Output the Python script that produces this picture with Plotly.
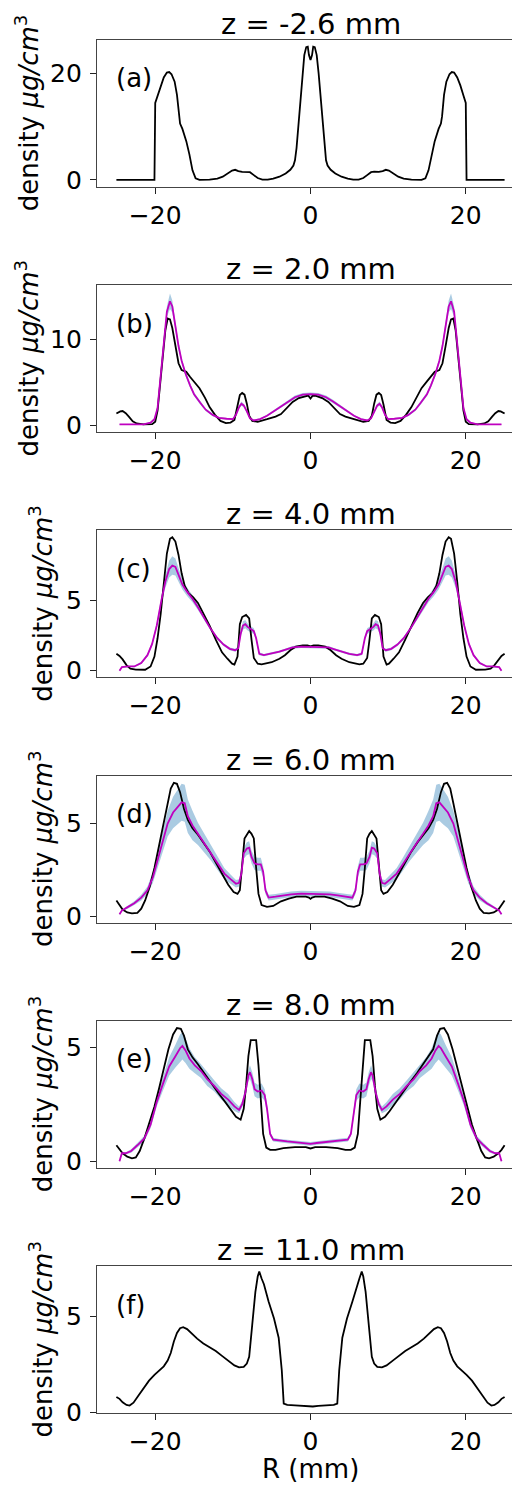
import plotly.graph_objects as go

# ---------------- data (R in mm, density in ug/cm^3) ----------------
TITLES = ["z = -2.6 mm", "z = 2.0 mm", "z = 4.0 mm", "z = 6.0 mm", "z = 8.0 mm", "z = 11.0 mm"]
LETTERS = ["(a)", "(b)", "(c)", "(d)", "(e)", "(f)"]
X_TICKS = [-20, 0, 20]
Y_TICKS = [[0, 20], [0, 10], [0, 5], [0, 5], [0, 5], [0, 5]]

# black: measured profile (R, density)
A_BLACK = [(-25, 0), (-20.1, 0), (-20.0, 14.5), (-19.7, 15.9), (-19.3, 17.8), (-18.9, 19.3), (-18.5, 20.2), (-18.2, 20.3),
           (-17.9, 19.9), (-17.5, 18.5), (-17.2, 16.0), (-16.95, 12.0), (-16.8, 10.6), (-16.5, 9.6), (-16.0, 7.3),
           (-15.6, 4.8), (-15.2, 1.8), (-14.8, 0.3), (-14.3, 0.0), (-13.0, 0.05), (-12.0, 0.25), (-11.3, 0.6),
           (-10.7, 1.2), (-10.1, 1.75), (-9.7, 1.9), (-9.3, 1.65), (-8.8, 1.5), (-8.2, 1.55), (-7.8, 1.45), (-7.3, 0.9),
           (-6.8, 0.35), (-6.2, 0.05), (-5.5, 0.05), (-4.8, 0.25), (-4.0, 0.6), (-3.2, 1.2), (-2.6, 1.9), (-2.2, 2.7),
           (-2.0, 3.7), (-1.8, 6.0), (-1.55, 10.5), (-1.3, 15.5), (-1.05, 20.0), (-0.8, 23.5), (-0.55, 25.0),
           (-0.35, 25.1), (-0.2, 23.5), (0, 22.6),
           (0.2, 23.5), (0.35, 25.1), (0.55, 25.0), (0.8, 23.5), (1.05, 20.0), (1.3, 15.5), (1.55, 10.5), (1.8, 6.0),
           (2.0, 3.7), (2.2, 2.7), (2.6, 1.9), (3.2, 1.2), (4.0, 0.6), (4.8, 0.25), (5.5, 0.05), (6.2, 0.05),
           (6.8, 0.35), (7.3, 0.9), (7.8, 1.45), (8.2, 1.55), (8.8, 1.5), (9.3, 1.65), (9.7, 1.9), (10.1, 1.75),
           (10.7, 1.2), (11.3, 0.6), (12.0, 0.25), (13.0, 0.05), (14.3, 0.0), (14.8, 0.3), (15.2, 1.8), (15.6, 4.8),
           (16.0, 7.3), (16.5, 9.6), (16.8, 10.6), (16.95, 12.0), (17.2, 16.0), (17.5, 18.5), (17.9, 19.9),
           (18.2, 20.3), (18.5, 20.2), (18.9, 19.3), (19.3, 17.8), (19.7, 15.9), (20.0, 14.5), (20.1, 0), (25, 0)]

B_BLACK = [(-25, 1.35), (-24.5, 1.6), (-24.2, 1.65), (-23.8, 1.4), (-23.4, 1.0), (-22.9, 0.45), (-22.4, 0.2),
           (-21.5, 0.1), (-20.4, 0.12), (-20.0, 0.4), (-19.7, 1.7), (-19.4, 4.5), (-19.0, 8.5), (-18.7, 11.0),
           (-18.4, 12.4), (-18.1, 12.3), (-17.8, 11.3), (-17.4, 9.2), (-17.0, 7.2), (-16.6, 6.4), (-16.0, 6.2),
           (-15.5, 5.6), (-15.0, 5.1), (-14.3, 4.3), (-13.6, 3.2), (-13.0, 2.1), (-12.3, 1.2), (-11.6, 0.5),
           (-10.9, 0.25), (-10.3, 0.3), (-9.8, 0.6), (-9.4, 2.4), (-9.1, 3.5), (-8.8, 3.75), (-8.5, 3.55),
           (-8.2, 2.5), (-7.9, 1.1), (-7.5, 0.5), (-6.8, 0.4), (-5.6, 0.7), (-4.5, 1.0), (-3.8, 1.3), (-3.0, 2.1),
           (-2.3, 2.7), (-1.5, 3.15), (-0.7, 3.4), (-0.3, 3.45), (0, 3.1),
           (0.3, 3.45), (0.7, 3.4), (1.5, 3.15), (2.3, 2.7), (3.0, 2.1), (3.8, 1.3), (4.5, 1.0), (5.6, 0.7),
           (6.8, 0.4), (7.5, 0.5), (7.9, 1.1), (8.2, 2.5), (8.5, 3.55), (8.8, 3.75), (9.1, 3.5), (9.4, 2.4),
           (9.8, 0.6), (10.3, 0.3), (10.9, 0.25), (11.6, 0.5), (12.3, 1.2), (13.0, 2.1), (13.6, 3.2), (14.3, 4.3),
           (15.0, 5.1), (15.5, 5.6), (16.0, 6.2), (16.6, 6.4), (17.0, 7.2), (17.4, 9.2), (17.8, 11.3), (18.1, 12.3),
           (18.4, 12.4), (18.7, 11.0), (19.0, 8.5), (19.4, 4.5), (19.7, 1.7), (20.0, 0.4), (20.4, 0.12),
           (21.5, 0.1), (22.4, 0.2), (22.9, 0.45), (23.4, 1.0), (23.8, 1.4), (24.2, 1.65), (24.5, 1.6), (25, 1.35)]

# magenta: reconstruction mean with uncertainty (R, density, half-width of band)
B_FIT = [(-24.6, 0.1, 0.05), (-21.5, 0.1, 0.05), (-20.6, 0.3, 0.1), (-20.1, 0.7, 0.15), (-19.7, 2.0, 0.2),
         (-19.3, 5.5, 0.3), (-18.9, 9.5, 0.4), (-18.5, 13.2, 0.6), (-18.1, 14.4, 0.9), (-17.8, 13.8, 0.7),
         (-17.4, 11.5, 0.5), (-17.0, 9.2, 0.4), (-16.6, 7.5, 0.3), (-16.1, 6.0, 0.3), (-15.5, 4.6, 0.25),
         (-15.0, 3.6, 0.2), (-14.2, 2.6, 0.2), (-13.5, 1.8, 0.15), (-12.6, 1.2, 0.15), (-11.8, 0.85, 0.1),
         (-10.8, 0.75, 0.1), (-10.0, 0.7, 0.1), (-9.6, 1.2, 0.15), (-9.2, 2.1, 0.2), (-8.9, 2.5, 0.25),
         (-8.6, 2.3, 0.2), (-8.2, 1.6, 0.15), (-7.8, 0.8, 0.1), (-7.3, 0.55, 0.1), (-6.5, 0.7, 0.1),
         (-5.6, 1.1, 0.1), (-4.6, 1.7, 0.15), (-3.8, 2.2, 0.15), (-2.9, 2.75, 0.2), (-2.0, 3.25, 0.2),
         (-1.0, 3.55, 0.2), (0, 3.6, 0.2),
         (1.0, 3.55, 0.2), (2.0, 3.25, 0.2), (2.9, 2.75, 0.2), (3.8, 2.2, 0.15), (4.6, 1.7, 0.15),
         (5.6, 1.1, 0.1), (6.5, 0.7, 0.1), (7.3, 0.55, 0.1), (7.8, 0.8, 0.1), (8.2, 1.6, 0.15), (8.6, 2.3, 0.2),
         (8.9, 2.5, 0.25), (9.2, 2.1, 0.2), (9.6, 1.2, 0.15), (10.0, 0.7, 0.1), (10.8, 0.75, 0.1),
         (11.8, 0.85, 0.1), (12.6, 1.2, 0.15), (13.5, 1.8, 0.15), (14.2, 2.6, 0.2), (15.0, 3.6, 0.2),
         (15.5, 4.6, 0.25), (16.1, 6.0, 0.3), (16.6, 7.5, 0.3), (17.0, 9.2, 0.4), (17.4, 11.5, 0.5),
         (17.8, 13.8, 0.7), (18.1, 14.4, 0.9), (18.5, 13.2, 0.6), (18.9, 9.5, 0.4), (19.3, 5.5, 0.3),
         (19.7, 2.0, 0.2), (20.1, 0.7, 0.15), (20.6, 0.3, 0.1), (21.5, 0.1, 0.05), (24.6, 0.1, 0.05)]

C_BLACK = [(-25, 1.2), (-24.6, 1.05), (-24.2, 0.8), (-23.7, 0.4), (-23.2, 0.15), (-22.5, 0.08), (-21.3, 0.07),
           (-20.6, 0.3), (-20.1, 1.0), (-19.7, 2.3), (-19.3, 4.0), (-18.9, 6.3), (-18.5, 8.3), (-18.1, 9.35),
           (-17.8, 9.45), (-17.4, 9.15), (-17.0, 8.2), (-16.6, 6.9), (-16.2, 6.0), (-15.7, 5.5), (-15.1, 5.2),
           (-14.5, 4.8), (-13.8, 4.1), (-13.0, 3.2), (-12.2, 2.2), (-11.4, 1.3), (-10.7, 0.85), (-10.1, 0.5),
           (-9.8, 0.43), (-9.4, 1.0), (-9.1, 3.3), (-8.8, 3.8), (-8.3, 3.95), (-7.9, 3.7), (-7.6, 2.2),
           (-7.3, 0.9), (-6.8, 0.5), (-6.3, 0.45), (-5.0, 0.6), (-4.0, 0.85), (-3.3, 1.1), (-2.6, 1.45),
           (-1.9, 1.7), (-1.0, 1.8), (-0.4, 1.8), (0, 1.72),
           (0.4, 1.8), (1.0, 1.8), (1.9, 1.7), (2.6, 1.45), (3.3, 1.1), (4.0, 0.85), (5.0, 0.6), (6.3, 0.45),
           (6.8, 0.5), (7.3, 0.9), (7.6, 2.2), (7.9, 3.7), (8.3, 3.95), (8.8, 3.8), (9.1, 3.3), (9.4, 1.0),
           (9.8, 0.43), (10.1, 0.5), (10.7, 0.85), (11.4, 1.3), (12.2, 2.2), (13.0, 3.2), (13.8, 4.1), (14.5, 4.8),
           (15.1, 5.2), (15.7, 5.5), (16.2, 6.0), (16.6, 6.9), (17.0, 8.2), (17.4, 9.15), (17.8, 9.45),
           (18.1, 9.35), (18.5, 8.3), (18.9, 6.3), (19.3, 4.0), (19.7, 2.3), (20.1, 1.0), (20.6, 0.3),
           (21.3, 0.07), (22.5, 0.08), (23.2, 0.15), (23.7, 0.4), (24.2, 0.8), (24.6, 1.05), (25, 1.2)]

C_FIT = [(-24.6, 0.0, 0.05), (-24.3, 0.25, 0.05), (-23.5, 0.3, 0.05), (-22.7, 0.3, 0.05), (-21.8, 0.55, 0.08),
         (-21.0, 1.1, 0.1), (-20.4, 1.9, 0.15), (-19.8, 3.2, 0.2), (-19.2, 5.0, 0.3), (-18.7, 6.3, 0.45),
         (-18.2, 7.2, 0.6), (-17.8, 7.45, 0.65), (-17.4, 7.35, 0.6), (-17.0, 6.8, 0.5), (-16.5, 6.1, 0.35),
         (-15.9, 5.6, 0.3), (-15.2, 5.1, 0.25), (-14.5, 4.5, 0.2), (-13.7, 3.7, 0.15), (-12.9, 3.0, 0.12),
         (-12.0, 2.3, 0.1), (-11.2, 1.85, 0.1), (-10.4, 1.55, 0.1), (-9.7, 1.45, 0.1), (-9.3, 1.6, 0.12),
         (-9.0, 2.6, 0.2), (-8.7, 3.2, 0.3), (-8.4, 3.3, 0.3), (-8.1, 3.1, 0.25), (-7.7, 2.95, 0.2),
         (-7.3, 2.8, 0.2), (-7.0, 2.3, 0.15), (-6.6, 1.2, 0.1), (-6.0, 1.1, 0.08), (-5.0, 1.2, 0.08),
         (-4.0, 1.35, 0.08), (-3.2, 1.5, 0.08), (-2.3, 1.65, 0.1), (-1.2, 1.7, 0.1), (0, 1.7, 0.1),
         (1.2, 1.7, 0.1), (2.3, 1.65, 0.1), (3.2, 1.5, 0.08), (4.0, 1.35, 0.08), (5.0, 1.2, 0.08),
         (6.0, 1.1, 0.08), (6.6, 1.2, 0.1), (7.0, 2.3, 0.15), (7.3, 2.8, 0.2), (7.7, 2.95, 0.2), (8.1, 3.1, 0.25),
         (8.4, 3.3, 0.3), (8.7, 3.2, 0.3), (9.0, 2.6, 0.2), (9.3, 1.6, 0.12), (9.7, 1.45, 0.1), (10.4, 1.55, 0.1),
         (11.2, 1.85, 0.1), (12.0, 2.3, 0.1), (12.9, 3.0, 0.12), (13.7, 3.7, 0.15), (14.5, 4.5, 0.2),
         (15.2, 5.1, 0.25), (15.9, 5.6, 0.3), (16.5, 6.1, 0.35), (17.0, 6.8, 0.5), (17.4, 7.35, 0.6),
         (17.8, 7.45, 0.65), (18.2, 7.2, 0.6), (18.7, 6.3, 0.45), (19.2, 5.0, 0.3), (19.8, 3.2, 0.2),
         (20.4, 1.9, 0.15), (21.0, 1.1, 0.1), (21.8, 0.55, 0.08), (22.7, 0.3, 0.05), (23.5, 0.3, 0.05),
         (24.3, 0.25, 0.05), (24.6, 0.0, 0.05)]

D_BLACK = [(-25, 0.85), (-24.6, 0.6), (-24.2, 0.36), (-23.6, 0.2), (-23.0, 0.15), (-22.3, 0.18), (-21.8, 0.4),
           (-21.3, 0.85), (-20.7, 1.6), (-20.1, 2.6), (-19.5, 3.8), (-18.9, 5.1), (-18.4, 6.1), (-18.0, 6.9),
           (-17.6, 7.2), (-17.2, 7.15), (-16.8, 6.7), (-16.3, 5.8), (-15.8, 5.2), (-15.2, 4.75), (-14.5, 4.4),
           (-13.8, 4.0), (-13.0, 3.5), (-12.2, 2.9), (-11.4, 2.3), (-10.6, 1.7), (-9.9, 1.3), (-9.4, 1.2),
           (-9.1, 1.4), (-8.8, 2.8), (-8.5, 4.2), (-8.2, 4.4), (-7.9, 4.6), (-7.6, 4.45), (-7.3, 4.2), (-7.0, 2.6),
           (-6.7, 1.2), (-6.3, 0.6), (-5.6, 0.5), (-4.8, 0.55), (-3.8, 0.8), (-2.8, 0.95), (-1.8, 1.05),
           (-0.6, 1.05), (-0.2, 1.0), (0, 0.93),
           (0.2, 1.0), (0.6, 1.05), (1.8, 1.05), (2.8, 0.95), (3.8, 0.8), (4.8, 0.55), (5.6, 0.5), (6.3, 0.6),
           (6.7, 1.2), (7.0, 2.6), (7.3, 4.2), (7.6, 4.45), (7.9, 4.6), (8.2, 4.4), (8.5, 4.2), (8.8, 2.8),
           (9.1, 1.4), (9.4, 1.2), (9.9, 1.3), (10.6, 1.7), (11.4, 2.3), (12.2, 2.9), (13.0, 3.5), (13.8, 4.0),
           (14.5, 4.4), (15.2, 4.75), (15.8, 5.2), (16.3, 5.8), (16.8, 6.7), (17.2, 7.15), (17.6, 7.2), (18.0, 6.9),
           (18.4, 6.1), (18.9, 5.1), (19.5, 3.8), (20.1, 2.6), (20.7, 1.6), (21.3, 0.85), (21.8, 0.4), (22.3, 0.18),
           (23.0, 0.15), (23.6, 0.2), (24.2, 0.36), (24.6, 0.6), (25, 0.85)]

D_FIT = [(-24.6, 0.1, 0.05), (-24.3, 0.3, 0.05), (-23.5, 0.5, 0.08), (-22.7, 0.7, 0.1), (-21.8, 1.0, 0.15),
         (-21.0, 1.4, 0.2), (-20.3, 2.1, 0.3), (-19.7, 3.0, 0.4), (-19.0, 4.1, 0.55), (-18.4, 5.0, 0.7),
         (-17.7, 5.6, 0.85), (-17.1, 5.9, 0.95), (-16.6, 6.15, 1.0), (-16.2, 6.1, 1.0), (-15.8, 5.4, 0.9),
         (-15.2, 4.9, 0.8), (-14.5, 4.45, 0.6), (-13.6, 3.9, 0.5), (-12.8, 3.4, 0.4), (-11.9, 2.8, 0.35),
         (-11.1, 2.3, 0.3), (-10.3, 2.0, 0.25), (-9.6, 1.75, 0.2), (-9.2, 1.8, 0.2), (-8.9, 2.3, 0.25),
         (-8.6, 3.4, 0.3), (-8.2, 3.65, 0.35), (-7.9, 3.7, 0.35), (-7.6, 3.2, 0.35), (-7.2, 2.85, 0.35),
         (-6.8, 2.8, 0.35), (-6.4, 2.8, 0.35), (-6.1, 2.4, 0.3), (-5.8, 1.4, 0.2), (-5.4, 1.0, 0.15),
         (-4.5, 1.05, 0.15), (-3.5, 1.12, 0.15), (-2.5, 1.18, 0.15), (-1.2, 1.22, 0.15), (0, 1.2, 0.15),
         (1.2, 1.22, 0.15), (2.5, 1.18, 0.15), (3.5, 1.12, 0.15), (4.5, 1.05, 0.15), (5.4, 1.0, 0.15),
         (5.8, 1.4, 0.2), (6.1, 2.4, 0.3), (6.4, 2.8, 0.35), (6.8, 2.8, 0.35), (7.2, 2.85, 0.35), (7.6, 3.2, 0.35),
         (7.9, 3.7, 0.35), (8.2, 3.65, 0.35), (8.6, 3.4, 0.3), (8.9, 2.3, 0.25), (9.2, 1.8, 0.2), (9.6, 1.75, 0.2),
         (10.3, 2.0, 0.25), (11.1, 2.3, 0.3), (11.9, 2.8, 0.35), (12.8, 3.4, 0.4), (13.6, 3.9, 0.5),
         (14.5, 4.45, 0.6), (15.2, 4.9, 0.8), (15.8, 5.4, 0.9), (16.2, 6.1, 1.0), (16.6, 6.15, 1.0),
         (17.1, 5.9, 0.95), (17.7, 5.6, 0.85), (18.4, 5.0, 0.7), (19.0, 4.1, 0.55), (19.7, 3.0, 0.4),
         (20.3, 2.1, 0.3), (21.0, 1.4, 0.2), (21.8, 1.0, 0.15), (22.7, 0.7, 0.1), (23.5, 0.5, 0.08),
         (24.3, 0.3, 0.05), (24.6, 0.1, 0.05)]

E_BLACK = [(-25, 0.7), (-24.6, 0.5), (-24.2, 0.35), (-23.6, 0.2), (-23.0, 0.13), (-22.5, 0.17), (-22.0, 0.45),
           (-21.4, 1.0), (-20.8, 1.6), (-20.1, 2.4), (-19.5, 3.2), (-18.9, 4.1), (-18.3, 4.9), (-17.7, 5.55),
           (-17.2, 5.83), (-16.7, 5.8), (-16.3, 5.5), (-15.8, 4.9), (-15.2, 4.55), (-14.5, 4.25), (-13.7, 3.85),
           (-12.8, 3.45), (-11.9, 3.0), (-11.0, 2.6), (-10.2, 2.2), (-9.6, 1.95), (-9.0, 1.82), (-8.6, 2.3),
           (-8.3, 3.3), (-8.0, 4.6), (-7.7, 5.3), (-7.0, 5.3), (-6.7, 4.2), (-6.4, 2.6), (-6.1, 1.2), (-5.7, 0.6),
           (-5.2, 0.5), (-4.5, 0.5), (-3.5, 0.58), (-2.0, 0.62), (-0.6, 0.62), (0, 0.56),
           (0.6, 0.62), (2.0, 0.62), (3.5, 0.58), (4.5, 0.5), (5.2, 0.5), (5.7, 0.6), (6.1, 1.2), (6.4, 2.6),
           (6.7, 4.2), (7.0, 5.3), (7.7, 5.3), (8.0, 4.6), (8.3, 3.3), (8.6, 2.3), (9.0, 1.82), (9.6, 1.95),
           (10.2, 2.2), (11.0, 2.6), (11.9, 3.0), (12.8, 3.45), (13.7, 3.85), (14.5, 4.25), (15.2, 4.55),
           (15.8, 4.9), (16.3, 5.5), (16.7, 5.8), (17.2, 5.83), (17.7, 5.55), (18.3, 4.9), (18.9, 4.1), (19.5, 3.2),
           (20.1, 2.4), (20.8, 1.6), (21.4, 1.0), (22.0, 0.45), (22.5, 0.17), (23.0, 0.13), (23.6, 0.2),
           (24.2, 0.35), (24.6, 0.5), (25, 0.7)]

E_FIT = [(-24.6, 0.0, 0.05), (-24.3, 0.35, 0.05), (-23.8, 0.35, 0.05), (-23.1, 0.45, 0.08), (-22.3, 0.7, 0.1),
         (-21.4, 1.0, 0.12), (-20.6, 1.6, 0.15), (-19.8, 2.6, 0.2), (-19.0, 3.4, 0.3), (-18.2, 4.15, 0.4),
         (-17.4, 4.6, 0.5), (-16.8, 4.95, 0.6), (-16.5, 5.05, 0.6), (-16.1, 4.85, 0.55), (-15.6, 4.5, 0.45),
         (-14.9, 4.2, 0.35), (-14.1, 3.95, 0.3), (-13.3, 3.6, 0.3), (-12.4, 3.3, 0.25), (-11.5, 2.95, 0.25),
         (-10.6, 2.7, 0.25), (-9.8, 2.4, 0.2), (-9.2, 2.25, 0.15), (-8.8, 2.5, 0.15), (-8.4, 3.0, 0.2),
         (-8.0, 3.75, 0.25), (-7.8, 3.9, 0.3), (-7.5, 3.6, 0.3), (-7.2, 3.15, 0.3), (-6.8, 3.05, 0.3),
         (-6.3, 3.1, 0.3), (-5.9, 2.9, 0.25), (-5.6, 2.3, 0.2), (-5.2, 1.2, 0.1), (-4.8, 0.95, 0.08),
         (-4.0, 0.9, 0.08), (-3.0, 0.87, 0.08), (-1.8, 0.83, 0.08), (-0.8, 0.8, 0.08), (0, 0.76, 0.08),
         (0.8, 0.8, 0.08), (1.8, 0.83, 0.08), (3.0, 0.87, 0.08), (4.0, 0.9, 0.08), (4.8, 0.95, 0.08),
         (5.2, 1.2, 0.1), (5.6, 2.3, 0.2), (5.9, 2.9, 0.25), (6.3, 3.1, 0.3), (6.8, 3.05, 0.3), (7.2, 3.15, 0.3),
         (7.5, 3.6, 0.3), (7.8, 3.9, 0.3), (8.0, 3.75, 0.25), (8.4, 3.0, 0.2), (8.8, 2.5, 0.15), (9.2, 2.25, 0.15),
         (9.8, 2.4, 0.2), (10.6, 2.7, 0.25), (11.5, 2.95, 0.25), (12.4, 3.3, 0.25), (13.3, 3.6, 0.3),
         (14.1, 3.95, 0.3), (14.9, 4.2, 0.35), (15.6, 4.5, 0.45), (16.1, 4.85, 0.55), (16.5, 5.05, 0.6),
         (16.8, 4.95, 0.6), (17.4, 4.6, 0.5), (18.2, 4.15, 0.4), (19.0, 3.4, 0.3), (19.8, 2.6, 0.2),
         (20.6, 1.6, 0.15), (21.4, 1.0, 0.12), (22.3, 0.7, 0.1), (23.1, 0.45, 0.08), (23.8, 0.35, 0.05),
         (24.3, 0.35, 0.05), (24.6, 0.0, 0.05)]

F_BLACK = [(-25, 0.8), (-24.6, 0.7), (-24.2, 0.52), (-23.7, 0.38), (-23.3, 0.35), (-22.8, 0.5), (-22.2, 0.85),
           (-21.5, 1.25), (-20.8, 1.65), (-20.1, 1.95), (-19.5, 2.2), (-18.9, 2.4), (-18.4, 2.7), (-18.0, 3.1),
           (-17.6, 3.7), (-17.2, 4.15), (-16.8, 4.4), (-16.4, 4.45), (-15.9, 4.35), (-15.3, 4.1), (-14.6, 3.85),
           (-13.8, 3.6), (-13.0, 3.4), (-12.2, 3.2), (-11.4, 2.95), (-10.6, 2.7), (-9.8, 2.45), (-9.2, 2.35),
           (-8.6, 2.37), (-8.2, 2.55), (-7.9, 2.9), (-7.5, 4.6), (-7.1, 6.3), (-6.8, 7.1), (-6.6, 7.37),
           (-6.3, 7.0), (-6.0, 6.7), (-5.4, 5.8), (-4.7, 4.9), (-4.1, 3.9), (-3.7, 2.2), (-3.45, 0.45),
           (-3.0, 0.38), (-2.0, 0.36), (-1.0, 0.33), (-0.3, 0.3), (0, 0.3),
           (0.3, 0.3), (1.0, 0.33), (2.0, 0.36), (3.0, 0.38), (3.45, 0.45), (3.7, 2.2), (4.1, 3.9), (4.7, 4.9),
           (5.4, 5.8), (6.0, 6.7), (6.3, 7.0), (6.6, 7.37), (6.8, 7.1), (7.1, 6.3), (7.5, 4.6), (7.9, 2.9),
           (8.2, 2.55), (8.6, 2.37), (9.2, 2.35), (9.8, 2.45), (10.6, 2.7), (11.4, 2.95), (12.2, 3.2), (13.0, 3.4),
           (13.8, 3.6), (14.6, 3.85), (15.3, 4.1), (15.9, 4.35), (16.4, 4.45), (16.8, 4.4), (17.2, 4.15),
           (17.6, 3.7), (18.0, 3.1), (18.4, 2.7), (18.9, 2.4), (19.5, 2.2), (20.1, 1.95), (20.8, 1.65),
           (21.5, 1.25), (22.2, 0.85), (22.8, 0.5), (23.3, 0.35), (23.7, 0.38), (24.2, 0.52), (24.6, 0.7), (25, 0.8)]

BLACK = [A_BLACK, B_BLACK, C_BLACK, D_BLACK, E_BLACK, F_BLACK]
FIT = [None, B_FIT, C_FIT, D_FIT, E_FIT, None]

# ---------------- layout geometry (pixels) ----------------
W, H = 520, 1489
X_LEFT, X_RIGHT = 89, 516
TOPS = [32, 279.6, 527.2, 774.8, 1022.4, 1270]
PH = 148.5
Y_RANGES = [[-1.3, 26.4], [-0.8, 16.3], [-0.47, 9.95], [-0.35, 7.6], [-0.29, 6.15], [-0.05, 7.65]]
YLABEL_X = [19, 19, 33, 33, 33, 33]
FONT = "DejaVu Sans"

fig = go.Figure()
annotations = []
for i in range(6):
    n = "" if i == 0 else str(i + 1)
    xa, ya = "x" + n, "y" + n
    top = TOPS[i]
    bot = top + PH
    dom = [1 - bot / H, 1 - top / H]
    fig.update_layout(**{
        "xaxis" + n: dict(domain=[X_LEFT / W, X_RIGHT / W], anchor=ya, range=[-27.5, 27.5],
                          tickvals=X_TICKS, ticks="outside", ticklen=6, tickwidth=1, tickcolor="#222",
                          showline=True, mirror=True, linecolor="#444", linewidth=1.2,
                          showgrid=False, zeroline=False, tickfont=dict(family=FONT, size=25, color="black")),
        "yaxis" + n: dict(domain=dom, anchor=xa, range=Y_RANGES[i], tickvals=Y_TICKS[i],
                          ticks="outside", ticklen=6, tickwidth=1, tickcolor="#222", ticklabelstandoff=3,
                          showline=True, mirror=True, linecolor="#444", linewidth=1.2,
                          showgrid=False, zeroline=False, tickfont=dict(family=FONT, size=25, color="black")),
    })
    fit = FIT[i]
    if fit is not None:
        fr = [p[0] for p in fit]
        fv = [p[1] for p in fit]
        hi = [p[1] + p[2] for p in fit]
        lo = [p[1] - p[2] for p in fit]
        fig.add_trace(go.Scatter(x=fr, y=hi, xaxis=xa, yaxis=ya, mode="lines", line=dict(width=0, color="rgba(0,0,0,0)"),
                                 showlegend=False, hoverinfo="skip"))
        fig.add_trace(go.Scatter(x=fr, y=lo, xaxis=xa, yaxis=ya, mode="lines", line=dict(width=0, color="rgba(0,0,0,0)"),
                                 fill="tonexty", fillcolor="rgba(31,119,180,0.38)", showlegend=False, hoverinfo="skip"))
    blk = BLACK[i]
    fig.add_trace(go.Scatter(x=[p[0] for p in blk], y=[p[1] for p in blk], xaxis=xa, yaxis=ya, mode="lines",
                             line=dict(color="black", width=1.8), showlegend=False))
    if fit is not None:
        fig.add_trace(go.Scatter(x=fr, y=fv, xaxis=xa, yaxis=ya, mode="lines",
                                 line=dict(color="#bf00bf", width=1.8), showlegend=False))
    # title
    annotations.append(dict(text=TITLES[i], xref="paper", yref="paper", x=(X_LEFT + X_RIGHT) / 2 / W,
                            y=1 - top / H, xanchor="center", yanchor="bottom", yshift=-3, showarrow=False,
                            font=dict(family=FONT, size=29, color="black")))
    # panel letter
    annotations.append(dict(text=LETTERS[i], xref="paper", yref="paper", x=(X_LEFT + 17) / W,
                            y=1 - (top + 39) / H, xanchor="left", yanchor="middle", showarrow=False,
                            font=dict(family=FONT, size=26, color="black")))
    # y label
    annotations.append(dict(text="density <i>μg/cm</i><sup>3</sup>", xref="paper", yref="paper",
                            x=YLABEL_X[i] / W, y=1 - (top + PH / 2) / H, xanchor="center", yanchor="middle",
                            textangle=-90, showarrow=False, font=dict(family=FONT, size=26, color="black")))

annotations.append(dict(text="R (mm)", xref="paper", yref="paper", x=(X_LEFT + X_RIGHT) / 2 / W, y=1 - 1475 / H,
                        xanchor="center", yanchor="middle", showarrow=False,
                        font=dict(family=FONT, size=26, color="black")))

fig.update_layout(width=W, height=H, margin=dict(l=0, r=0, t=0, b=0), plot_bgcolor="white",
                  paper_bgcolor="white", annotations=annotations, font=dict(family=FONT, color="black"))
fig.write_html("out.html")
